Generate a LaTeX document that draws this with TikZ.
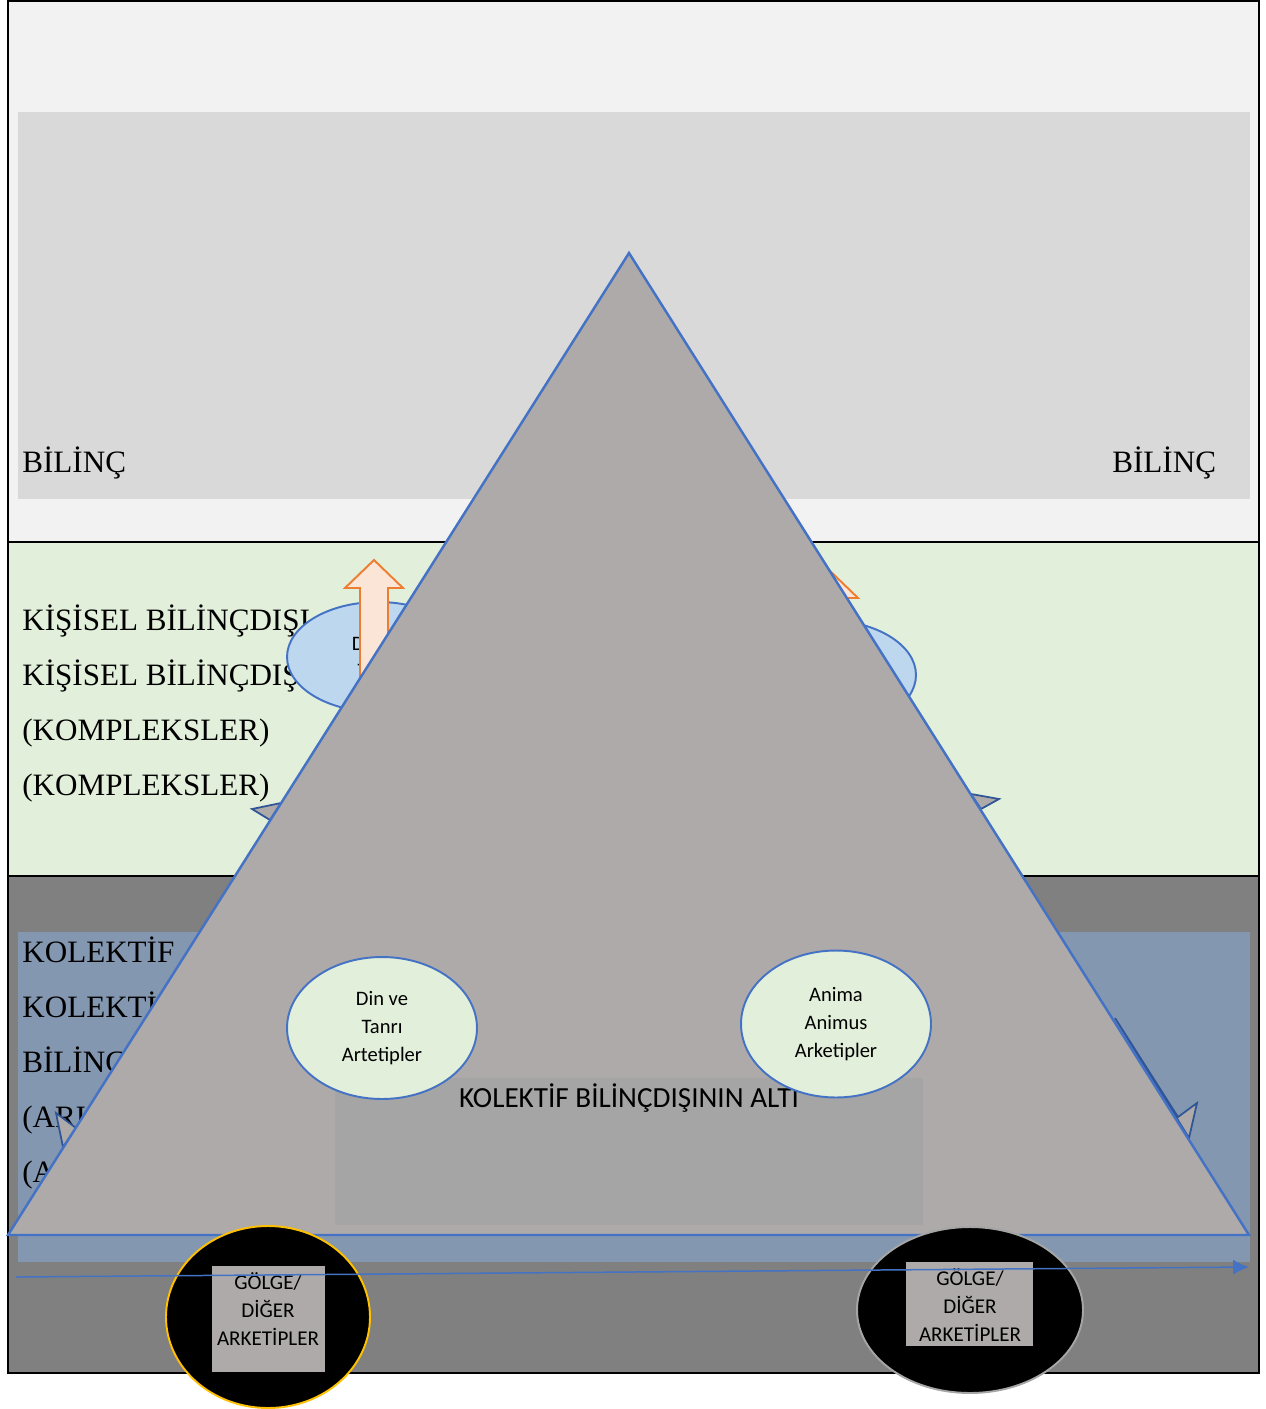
\documentclass[tikz,border=0pt]{standalone}
\usepackage{fontspec}
\setmainfont{Liberation Serif}
\newfontfamily\calibri{Carlito}
\usetikzlibrary{shapes.geometric,arrows.meta}

\definecolor{bandtop}{HTML}{F2F2F2}
\definecolor{bilincgray}{HTML}{D9D9D9}
\definecolor{bandgreen}{HTML}{E2EFDA}
\definecolor{banddark}{HTML}{808080}
\definecolor{kolblue}{HTML}{8497B0}
\definecolor{trigray}{HTML}{AEAAAA}
\definecolor{triblue}{HTML}{4472C4}
\definecolor{altgray}{HTML}{A5A5A5}
\definecolor{bubbleblue}{HTML}{BDD7EE}
\definecolor{arroworange}{HTML}{ED7D31}
\definecolor{arrowfill}{HTML}{FBE5D6}
\definecolor{taildark}{HTML}{2F5597}
\definecolor{golgegold}{HTML}{FFC000}
\definecolor{golgerim}{HTML}{A5A5A5}

\tikzset{
  band/.style={draw=black, line width=1.4pt},
  bandtext/.style={anchor=base west, inner sep=0pt, font=\fontsize{17.7}{20}\selectfont},
  bubble/.style={ellipse, draw=triblue, line width=1.1pt, inner sep=0pt, align=center,
    font=\calibri\fontsize{11.7}{15.9}\selectfont},
  tail/.style={draw=taildark, line width=1pt, fill=trigray},
  uparrow/.style={draw=arroworange, fill=arrowfill, line width=1.1pt},
  shadowdisc/.style={line width=1.1pt, fill=black},
  boxtext/.style={align=center, inner sep=0pt, font=\calibri\fontsize{12}{15.9}\selectfont}
}

\begin{document}
\begin{tikzpicture}[x=0.02cm, y=-0.02cm]
\useasboundingbox (0,0) rectangle (1266,1409);
% the three layers
\draw[band, fill=bandtop] (8,1) rectangle (1259,542);
\draw[band, fill=bandgreen] (8,542) rectangle (1259,876);
\draw[band, fill=banddark] (8,876) rectangle (1259,1373);
\fill[bilincgray] (18,112) rectangle (1250,499);
\fill[kolblue] (18,932) rectangle (1250,1262);

\node[bandtext] (bilincL) at (22,472) {BİLİNÇ};
\node[bandtext] (bilincR) at (1112,472) {BİLİNÇ};
\foreach \t [count=\i] in {KİŞİSEL BİLİNÇDIŞI, KİŞİSEL BİLİNÇDIŞI, {(KOMPLEKSLER)}, {(KOMPLEKSLER)}}
  \node[bandtext] (kisisel\i) at (22,{575+55*\i}) {\t};
\foreach \t [count=\i] in {KOLEKTİF, KOLEKTİF, BİLİNÇDIŞI, {(ARKETİPLER)}, {(ARKETİPLER)}}
  \node[bandtext] (kolektif\i) at (22,{907+55*\i}) {\t};

% bubbles and arrows behind the triangle
\node[bubble, fill=bubbleblue, minimum width=3.64cm, minimum height=2.2cm] (dinUp) at (378,657) {Din ve\\Tanrı};
\node[bubble, fill=bubbleblue, minimum width=3.64cm, minimum height=2.2cm] (animaUp) at (825,675) {};
\draw[uparrow] (360,720)--(360,588)--(345,588)--(374,560)--(403,588)--(388,588)--(388,720)--cycle;
\draw[uparrow] (815,720)--(815,598)--(800,598)--(829,570)--(858,598)--(843,598)--(843,720)--cycle;

\draw[tail] (281,803)--(252,809)--(270,820)--cycle;
\draw[tail] (971,794)--(999,799)--(981,809)--cycle;
\draw[tail] (76,1128)--(56,1113)--(63,1147)--cycle;
\draw[tail] (1115,1018)--(1178,1117)--(1197,1103)--(1189,1138)--cycle;

% triangle
\draw[line width=1.4pt, draw=triblue, fill=trigray] (629,253) coordinate (apex)--(1249,1235)--(8,1235)--cycle;

\fill[altgray] (335,1078) rectangle (923,1225);
\node[anchor=base, inner sep=0pt, font=\calibri\fontsize{16.6}{20}\selectfont] (alti) at (629,1107) {KOLEKTİF BİLİNÇDIŞININ ALTI};

\node[bubble, fill=bandgreen, minimum width=3.8cm, minimum height=2.84cm] (dinDown) at (382,1028) {Din ve\\Tanrı\\Artetipler};
\node[bubble, fill=bandgreen, minimum width=3.8cm, minimum height=2.94cm] (anima) at (836,1024) {Anima\\Animus\\Arketipler};

% shadow discs
\draw[shadowdisc, draw=golgegold] (268,1317) ellipse (102 and 91);
\fill[trigray] (212,1266) rectangle (325,1372);
\node[boxtext] (golgeL) at (268,1309) {GÖLGE/\\DİĞER\\ARKETİPLER};
\draw[shadowdisc, draw=golgerim] (970,1310) ellipse (113 and 83);
\fill[trigray] (906,1262) rectangle (1033,1346);
\node[boxtext] (golgeR) at (970,1305) {GÖLGE/\\DİĞER\\ARKETİPLER};

\coordinate (flowStart) at (16,1277);
\coordinate (flowEnd) at (1249,1267);
\draw[-{Latex[length=9pt,width=8.5pt]}, triblue, line width=0.85pt] (flowStart)--(flowEnd);
\end{tikzpicture}
\end{document}
